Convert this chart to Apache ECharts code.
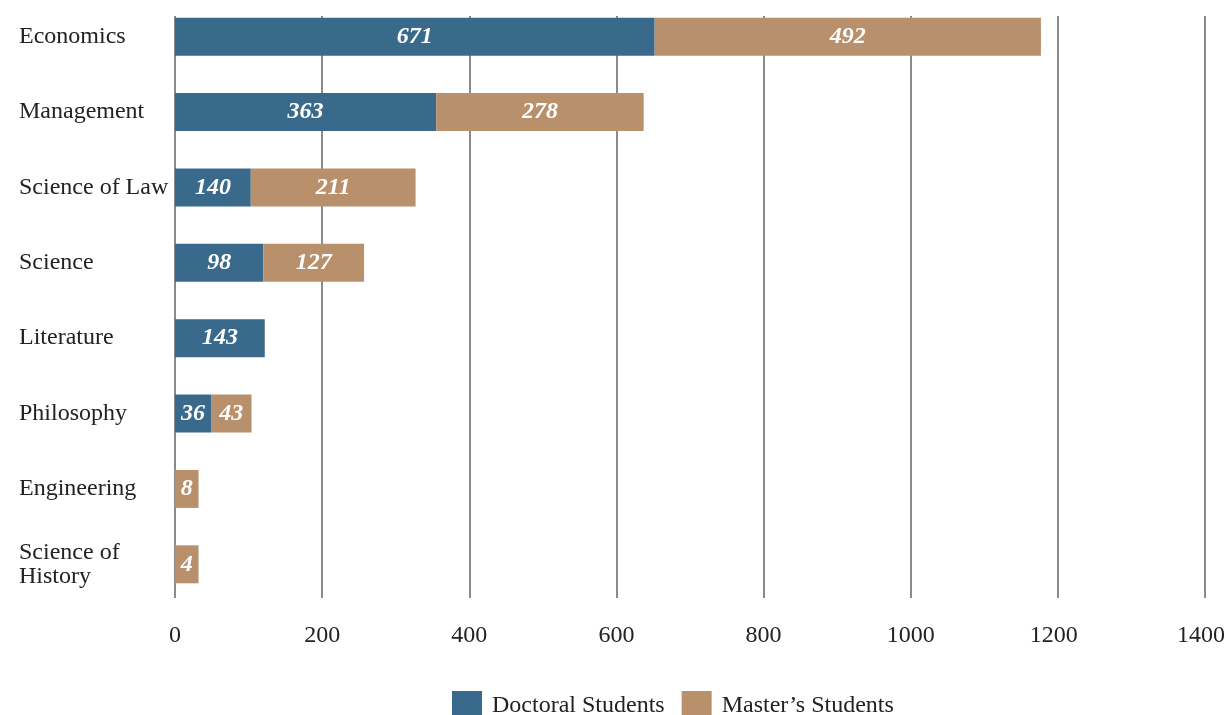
<!DOCTYPE html>
<html>
<head>
<meta charset="utf-8">
<script src="https://cdn.jsdelivr.net/npm/echarts@6/dist/echarts.min.js"></script>
<style>
html,body{margin:0;padding:0;background:#fff;}
#c{width:1226px;height:715px;}
</style>
</head>
<body>
<div id="c"></div>
<script>
// Categories (top to bottom)
var categories = ['Economics','Management','Science of Law','Science','Literature','Philosophy','Engineering','Science of\nHistory'];
// Bar lengths as drawn against the axis
var doctoralLength = [652, 355, 103, 120, 122, 49, null, null];
var masterLength   = [525, 282, 224, 137, null, 55, 32, 32];
// Values printed on the bars
var doctoralLabel = ['671','363','140','98','143','36','',''];
var masterLabel   = ['492','278','211','127','','43','8','4'];
// Axis ticks
var xTicks = [0,200,400,600,800,1000,1200,1400];

var serif = '"Liberation Serif","Times New Roman",serif';
var blue = '#3a6a8b';
var tan = '#b8906c';

// reverse for category axis (ECharts draws first category at bottom)
function rev(a){ return a.slice().reverse(); }
var cats = rev(categories);
var dLen = rev(doctoralLength), mLen = rev(masterLength);
var dLab = rev(doctoralLabel), mLab = rev(masterLabel);

var chart = echarts.init(document.getElementById('c'));
var labelStyle = {
  show: true, position: 'inside', color: '#fff',
  fontFamily: serif, fontSize: 24, fontWeight: 'bold', fontStyle: 'italic'
};
chart.setOption({
  animation: false,
  backgroundColor: '#fff',
  legend: {
    top: 691, left: 452, padding: 0,
    itemWidth: 30, itemHeight: 30, itemGap: 17,
    icon: 'rect',
    textStyle: { fontFamily: serif, fontSize: 24, color: '#222', padding: [0, 0, 0, 5] },
    data: ['Doctoral Students', "Master\u2019s Students"]
  },
  grid: [
    { left: 175, right: 21, top: 16, bottom: 117, containLabel: false, outerBoundsMode: 'none' },
    { left: 175, right: 21, top: -1, bottom: 113, containLabel: false, outerBoundsMode: 'none' }
  ],
  xAxis: [
    {
      gridIndex: 0, type: 'value', min: 0, max: 1400, interval: 200,
      axisLine: { show: false }, axisTick: { show: false },
      splitLine: { show: true, lineStyle: { color: '#8a8a8a', width: 2 } },
      axisLabel: {
        margin: 26, fontFamily: serif, fontSize: 24, color: '#222',
        formatter: function(v){
          if (xTicks.indexOf(v) < 0) return '';
          return v >= 1200 ? '{s|' + v + '}' : String(v);
        },
        rich: { s: { fontFamily: serif, fontSize: 24, color: '#222', padding: [0, 8, 0, 0] } }
      }
    },
    {
      gridIndex: 1, type: 'value', min: 0, max: 1400, interval: 200, show: false,
      splitLine: { show: false }
    }
  ],
  yAxis: [
    { gridIndex: 0, type: 'category', data: cats, show: false },
    {
      gridIndex: 1, type: 'category', data: cats,
      axisLine: { show: false }, axisTick: { show: false },
      axisLabel: {
        align: 'left', margin: 156, fontFamily: serif, fontSize: 24, color: '#222',
        lineHeight: 24
      }
    }
  ],
  series: [
    {
      name: 'Doctoral Students', type: 'bar', stack: 'a',
      xAxisIndex: 1, yAxisIndex: 1, barWidth: 38,
      itemStyle: { color: blue },
      label: Object.assign({}, labelStyle, { formatter: function(p){ return dLab[p.dataIndex]; } }),
      data: dLen
    },
    {
      name: "Master\u2019s Students", type: 'bar', stack: 'a',
      xAxisIndex: 1, yAxisIndex: 1, barWidth: 38,
      itemStyle: { color: tan },
      label: Object.assign({}, labelStyle, { formatter: function(p){ return mLab[p.dataIndex]; } }),
      data: mLen
    }
  ]
});
</script>
</body>
</html>
